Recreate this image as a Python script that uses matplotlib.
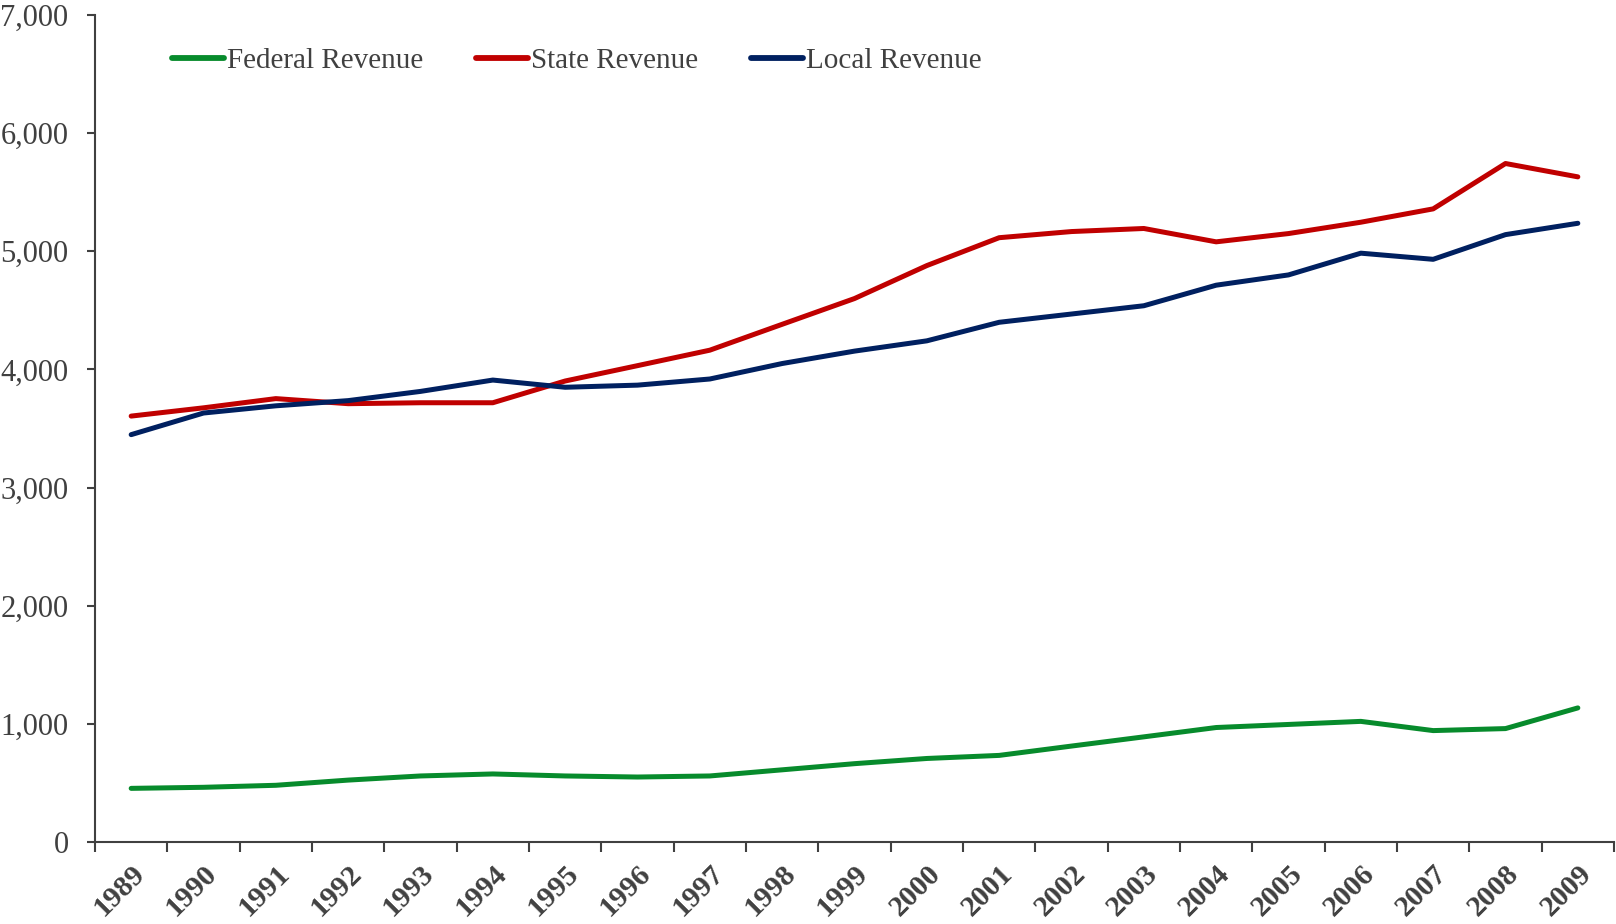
import numpy as np
import matplotlib
matplotlib.use("Agg")
import matplotlib.pyplot as plt
from matplotlib.ticker import FuncFormatter

plt.rcParams['font.family'] = ['Liberation Serif', 'DejaVu Serif']

# data
years = [str(y) for y in range(1989, 2010)]
federal = [454, 463, 480, 524, 559, 576, 559, 550, 559, 611, 663, 707, 733, 812, 890,
           969, 995, 1021, 943, 960, 1135]
state = [3605, 3675, 3753, 3710, 3718, 3718, 3902, 4032, 4163, 4382, 4600, 4879, 5115,
         5167, 5193, 5080, 5150, 5246, 5359, 5743, 5630]
local = [3448, 3631, 3692, 3736, 3814, 3910, 3849, 3867, 3919, 4050, 4155, 4242, 4399,
         4469, 4539, 4713, 4800, 4984, 4932, 5141, 5237]

txt = '#404040'
fig = plt.figure(figsize=(16.16, 9.24), dpi=100)
ax = fig.add_axes([95/1616, 1 - 842/924, 1519/1616, (842 - 15)/924])

x = np.arange(len(years))
ax.plot(x, federal, color='#078B2C', lw=3.6, label='Federal Revenue', solid_capstyle='round')
ax.plot(x, state, color='#C00000', lw=3.6, label='State Revenue', solid_capstyle='round')
ax.plot(x, local, color='#002060', lw=3.6, label='Local Revenue', solid_capstyle='round')

ax.set_xlim(-0.5, len(years) - 0.5)
ax.set_ylim(0, 7000)
ax.set_yticks(range(0, 7001, 1000))
ax.yaxis.set_major_formatter(FuncFormatter(lambda v, p: f'{int(v):,}'))

ax.set_xticks(x)
ax.set_xticklabels(years, rotation=45, ha='right', va='top', rotation_mode='anchor',
                   fontweight='bold')
ax.set_xticks(np.arange(-0.5, len(years)), minor=True)
ax.tick_params(axis='x', which='major', length=0, pad=13, labelsize=21.5, labelcolor=txt)
ax.tick_params(axis='x', which='minor', length=7, width=1.5, color=txt, direction='out')
ax.tick_params(axis='y', length=6, width=1.5, color=txt, pad=13, labelsize=22, labelcolor=txt)

for s in ['top', 'right']:
    ax.spines[s].set_visible(False)
for s in ['left', 'bottom']:
    ax.spines[s].set_color(txt)
    ax.spines[s].set_linewidth(1.5)

leg = ax.legend(loc='center left', bbox_to_anchor=(160/1616, 1 - 61/924),
                bbox_transform=fig.transFigure, ncol=3, frameon=False, fontsize=21,
                handlelength=1.8, handletextpad=0.1, columnspacing=1.8, borderaxespad=0)
for t in leg.get_texts():
    t.set_color(txt)
for h in leg.get_lines():
    h.set_linewidth(4.2)

fig.savefig('out.png', dpi=100)
